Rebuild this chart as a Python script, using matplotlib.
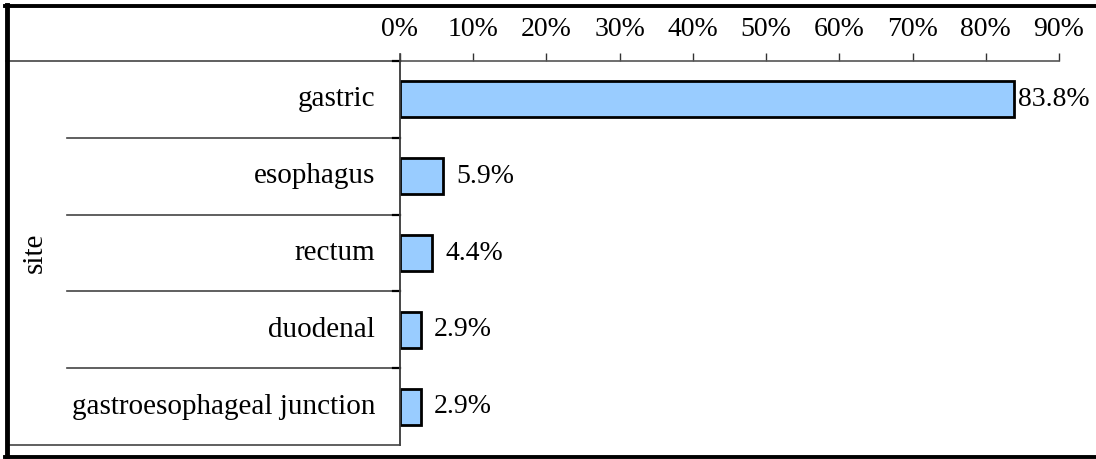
import matplotlib
matplotlib.use("Agg")
import matplotlib.pyplot as plt
from matplotlib.lines import Line2D

plt.rcParams["font.family"] = ["Liberation Serif", "DejaVu Serif"]

# Share of cases by site (%)
categories = ["gastric", "esophagus", "rectum", "duodenal", "gastroesophageal junction"]
shares = [83.8, 5.9, 4.4, 2.9, 2.9]
xticks = [0, 10, 20, 30, 40, 50, 60, 70, 80, 90]
axis_title = "site"

W, H = 1096, 459
fig = plt.figure(figsize=(W / 100, H / 100), dpi=100)
FS = 20      # tick and value labels
FS_CAT = 21  # category labels and axis title

# Plot area in pixel terms (top-left origin)
left_px, right_px, top_px, bot_px = 400, 1059, 61, 445
ax = fig.add_axes([left_px / W, 1 - bot_px / H, (right_px - left_px) / W, (bot_px - top_px) / H])

y = list(range(len(categories)))
ax.barh(y, shares, height=0.47, color="#99CCFF", edgecolor="black", linewidth=2, zorder=3)
ax.set_xlim(0, 90)
ax.set_ylim(len(categories) - 0.5, -0.5)

for yi, v in zip(y, shares):
    pad = 4 if v > 80 else 13
    ax.annotate(f"{v}%", (v, yi), xytext=(pad, 0), textcoords="offset pixels",
                va="center", ha="left", fontsize=FS, annotation_clip=False)

ax.xaxis.tick_top()
ax.set_xticks(xticks)
ax.set_xticklabels([f"{t}%" for t in xticks], fontsize=FS)
ax.tick_params(axis="x", direction="out", length=6, width=1, color="#333333", pad=7.5)
ax.set_yticks([])
for s in ["right", "bottom"]:
    ax.spines[s].set_visible(False)
ax.spines["top"].set_color("#555555")
ax.spines["top"].set_linewidth(1.2)
ax.spines["left"].set_color("#555555")
ax.spines["left"].set_linewidth(1.2)

# Table-like frame around the category column
def hline(x0, x1, ypx, lw=1.2, color="#444444"):
    fig.add_artist(Line2D([x0 / W, x1 / W], [1 - ypx / H, 1 - ypx / H], lw=lw, color=color,
                          transform=fig.transFigure))

def vline(xpx, y0, y1, lw=1.2, color="#444444"):
    fig.add_artist(Line2D([xpx / W, xpx / W], [1 - y0 / H, 1 - y1 / H], lw=lw, color=color,
                          transform=fig.transFigure))

row_h = (bot_px - top_px) / len(categories)
hline(6, left_px, top_px)
for i in range(1, len(categories)):
    yb = top_px + i * row_h
    hline(67, left_px, yb)
    hline(393, left_px, yb, lw=1.6, color="black")
hline(393, left_px, top_px, lw=1.6, color="black")
hline(8, left_px, bot_px)
vline(left_px, bot_px, 54)

# Outer border
hline(5, W, 6, lw=2.8, color="black")
hline(5, W, 457, lw=2.8, color="black")
vline(6.5, 5, 458, lw=3.5, color="black")

for i, c in enumerate(categories):
    yc = top_px + (i + 0.5) * row_h
    fig.text(375 / W, 1 - yc / H, c, ha="right", va="center", fontsize=FS_CAT)

fig.text(35 / W, 1 - (top_px + bot_px) / 2 / H, axis_title, rotation=90,
         ha="center", va="center", fontsize=FS_CAT)

fig.savefig("out.png", dpi=100)
